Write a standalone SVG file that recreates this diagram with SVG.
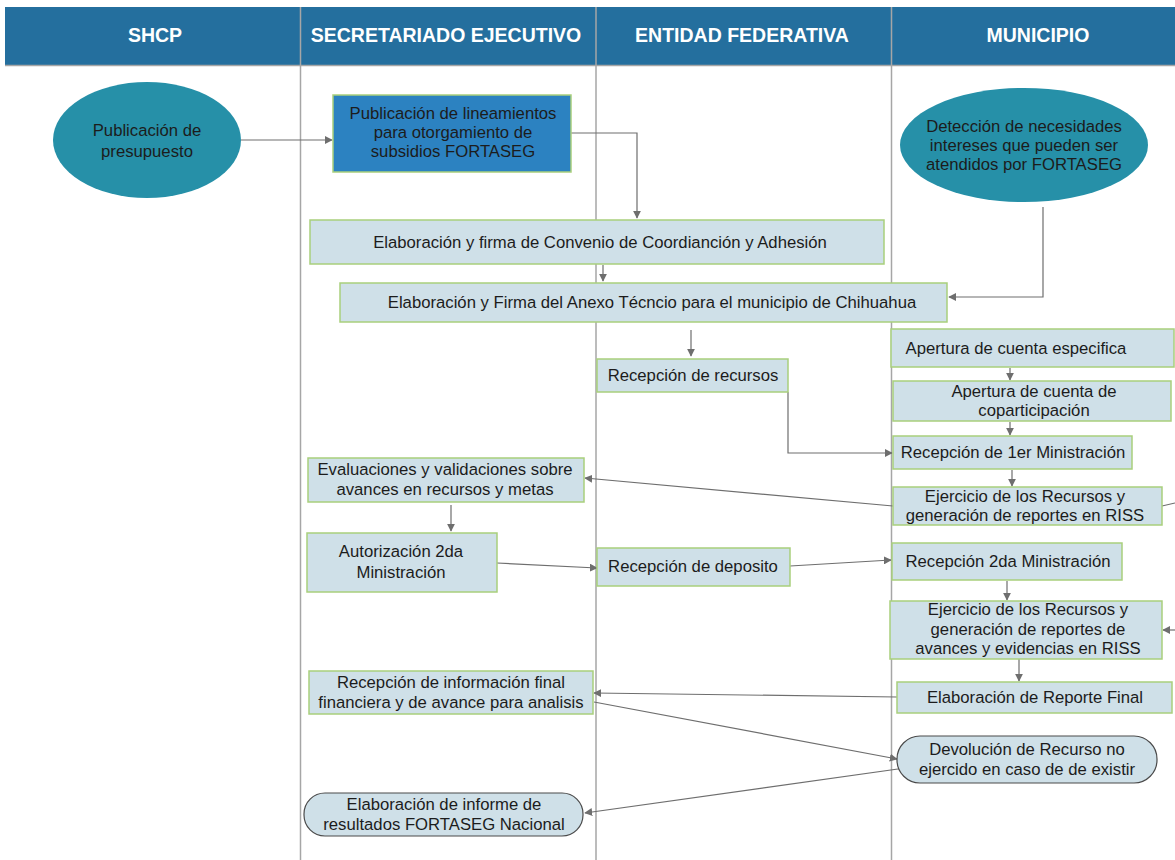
<svg xmlns="http://www.w3.org/2000/svg" width="1175" height="860" viewBox="0 0 1175 860">
<style>
  .hdr{fill:#246f9e}
  .lane{stroke:#a6a6a6;stroke-width:1.5;fill:none}
  .ht{font-family:"Liberation Sans",Arial,sans-serif;font-weight:bold;font-size:19.5px;fill:#ffffff;text-anchor:middle}
  .t{font-family:"Liberation Sans",Arial,sans-serif;font-size:16.7px;fill:#1c1c1c;text-anchor:middle}
  .box{fill:#cfe0e8;stroke:#a9cf7c;stroke-width:1.5}
  .blue{fill:#2c82c1;stroke:#a9cf7c;stroke-width:1.5}
  .ell{fill:#2690a8;stroke:none}
  .term{fill:#cfe0e8;stroke:#4a4a4a;stroke-width:1.2}
  .c{stroke:#6e6e6e;stroke-width:1.2;fill:none}
  .ca{stroke:#6e6e6e;stroke-width:1.2;fill:none;marker-end:url(#ah)}
</style>
<defs>
  <marker id="ah" viewBox="0 0 10 10" refX="9" refY="5" markerWidth="8" markerHeight="8" markerUnits="userSpaceOnUse" orient="auto">
    <path d="M0,0 L10,5 L0,10 z" fill="#6e6e6e"/>
  </marker>
</defs>
<rect width="1175" height="860" fill="#ffffff"/>
<g id="header">
  <rect class="hdr" x="5" y="7" width="1170" height="58"/>
  <line x1="5" y1="65.5" x2="1175" y2="65.5" stroke="#a6a6a6" stroke-width="1.5"/>
  <text class="ht" x="155" y="42">SHCP</text>
  <text class="ht" x="446" y="42">SECRETARIADO EJECUTIVO</text>
  <text class="ht" x="742" y="42">ENTIDAD FEDERATIVA</text>
  <text class="ht" x="1038" y="42">MUNICIPIO</text>
</g>
<g id="lanes">
  <line class="lane" x1="300.5" y1="7" x2="300.5" y2="860"/>
  <line class="lane" x1="596" y1="7" x2="596" y2="860"/>
  <line class="lane" x1="891.5" y1="7" x2="891.5" y2="860"/>
</g>
<g id="connectors">
  <line class="ca" x1="241" y1="140" x2="332" y2="140"/>
  <polyline class="ca" points="571,133 637,133 637,218"/>
  <line class="ca" x1="603" y1="265" x2="603" y2="281"/>
  <polyline class="ca" points="1043,207 1043,297 949,297"/>
  <line class="ca" x1="691" y1="330" x2="691" y2="356"/>
  <polyline class="ca" points="788,392 788,453 892,453"/>
  <line class="ca" x1="1010" y1="368" x2="1010" y2="380"/>
  <line class="ca" x1="1010" y1="422" x2="1010" y2="435"/>
  <line class="ca" x1="1012" y1="470" x2="1012" y2="486"/>
  <line class="ca" x1="893" y1="506" x2="585" y2="478"/>
  <line class="c" x1="1162" y1="506" x2="1175" y2="503"/>
  <line class="ca" x1="1175" y1="630" x2="1163" y2="630"/>
  <line class="ca" x1="451" y1="505" x2="451" y2="531"/>
  <line class="ca" x1="497" y1="563" x2="597" y2="568"/>
  <line class="ca" x1="790" y1="566" x2="891" y2="560"/>
  <line class="ca" x1="1007" y1="581" x2="1007" y2="600"/>
  <line class="ca" x1="1019" y1="652" x2="1019" y2="681"/>
  <line class="ca" x1="897" y1="697" x2="594" y2="693"/>
  <line class="ca" x1="594" y1="702" x2="897" y2="759"/>
  <line class="ca" x1="905" y1="768" x2="585" y2="813"/>
</g>
<g id="n_presupuesto">
  <ellipse class="ell" cx="147" cy="140" rx="94" ry="58"/>
  <text class="t" x="147" y="136">Publicación de</text>
  <text class="t" x="147" y="157">presupuesto</text>
</g>
<g id="n_lineamientos">
  <rect class="blue" x="333" y="95" width="238" height="77"/>
  <text class="t" x="453" y="119">Publicación de lineamientos</text>
  <text class="t" x="453" y="138">para otorgamiento de</text>
  <text class="t" x="453" y="157">subsidios FORTASEG</text>
</g>
<g id="n_deteccion">
  <ellipse class="ell" cx="1024" cy="145" rx="124" ry="57"/>
  <text class="t" x="1024" y="132">Detección de necesidades</text>
  <text class="t" x="1024" y="151">intereses que pueden ser</text>
  <text class="t" x="1024" y="170">atendidos por FORTASEG</text>
</g>
<g id="n_convenio">
  <rect class="box" x="310" y="220" width="574" height="44"/>
  <text class="t" x="600" y="248">Elaboración y firma de Convenio de Coordianción y Adhesión</text>
</g>
<g id="n_anexo">
  <rect class="box" x="340" y="283" width="607" height="39"/>
  <text class="t" x="652" y="308">Elaboración y Firma del Anexo Técncio para el municipio de Chihuahua</text>
</g>
<g id="n_recepcion_recursos">
  <rect class="box" x="597" y="359" width="191" height="33"/>
  <text class="t" x="693" y="381">Recepción de recursos</text>
</g>
<g id="n_apertura_especifica">
  <rect class="box" x="891" y="329" width="283" height="38"/>
  <text class="t" x="1016" y="354">Apertura de cuenta especifica</text>
</g>
<g id="n_apertura_copart">
  <rect class="box" x="893" y="381" width="278" height="40"/>
  <text class="t" x="1034" y="397">Apertura de cuenta de</text>
  <text class="t" x="1034" y="416">coparticipación</text>
</g>
<g id="n_1er_ministracion">
  <rect class="box" x="893" y="436" width="239" height="33"/>
  <text class="t" x="1013" y="458">Recepción de 1er Ministración</text>
</g>
<g id="n_evaluaciones">
  <rect class="box" x="308" y="458" width="276" height="44"/>
  <text class="t" x="445" y="475">Evaluaciones y validaciones sobre</text>
  <text class="t" x="445" y="495">avances en recursos y metas</text>
</g>
<g id="n_ejercicio1">
  <rect class="box" x="893" y="487" width="269" height="38"/>
  <text class="t" x="1025" y="502">Ejercicio de los Recursos y</text>
  <text class="t" x="1025" y="521">generación de reportes en RISS</text>
</g>
<g id="n_autorizacion">
  <rect class="box" x="307" y="533" width="190" height="59"/>
  <text class="t" x="401" y="557">Autorización 2da</text>
  <text class="t" x="401" y="578">Ministración</text>
</g>
<g id="n_recepcion_deposito">
  <rect class="box" x="597" y="548" width="193" height="38"/>
  <text class="t" x="693" y="572">Recepción de deposito</text>
</g>
<g id="n_2da_ministracion">
  <rect class="box" x="892" y="543" width="230" height="37"/>
  <text class="t" x="1008" y="567">Recepción 2da Ministración</text>
</g>
<g id="n_ejercicio2">
  <rect class="box" x="890" y="601" width="272" height="58"/>
  <text class="t" x="1028" y="615">Ejercicio de los Recursos y</text>
  <text class="t" x="1028" y="635">generación de reportes de</text>
  <text class="t" x="1028" y="654">avances y evidencias en RISS</text>
</g>
<g id="n_reporte_final">
  <rect class="box" x="897" y="682" width="275" height="31"/>
  <text class="t" x="1035" y="703">Elaboración de Reporte Final</text>
</g>
<g id="n_recepcion_info">
  <rect class="box" x="309" y="671" width="284" height="43"/>
  <text class="t" x="451" y="688">Recepción de información final</text>
  <text class="t" x="451" y="708">financiera y de avance para analisis</text>
</g>
<g id="n_devolucion">
  <rect class="term" x="897" y="736" width="260" height="47" rx="23" ry="23"/>
  <text class="t" x="1027" y="755">Devolución de Recurso no</text>
  <text class="t" x="1027" y="775">ejercido en caso de de existir</text>
</g>
<g id="n_informe">
  <rect class="term" x="304" y="793" width="279" height="43" rx="21" ry="21"/>
  <text class="t" x="444" y="810">Elaboración de informe de</text>
  <text class="t" x="444" y="830">resultados FORTASEG Nacional</text>
</g>
</svg>
